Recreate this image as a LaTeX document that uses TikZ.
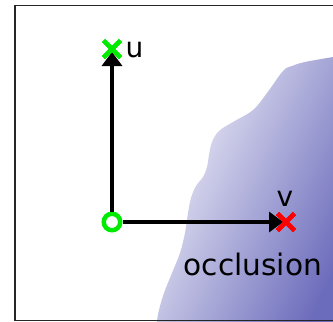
\documentclass[tikz,border=0pt]{standalone}
\usepackage{fontspec}
\setmainfont{DejaVu Sans}
\usetikzlibrary{arrows.meta,shapes.misc}
\definecolor{occlight}{RGB}{242,242,250}
\definecolor{occdark}{RGB}{108,108,188}
\definecolor{mygreen}{RGB}{0,235,0}
\definecolor{myred}{RGB}{255,0,0}
\begin{document}
\begin{tikzpicture}[x=1pt,y=-1pt,
  frame/.style={draw=black!85,line width=1.5pt},
  axis/.style={line width=4pt,-{Triangle[length=14pt,width=20pt]},shorten >=3pt},
  mark green/.style={cross out,draw=mygreen,line width=4.5pt,minimum size=12.5pt,inner sep=0pt},
  mark red/.style={cross out,draw=myred,line width=4.5pt,minimum size=12.5pt,inner sep=0pt},
  origin/.style={circle,draw=mygreen,line width=4.5pt,fill=white,minimum size=16.5pt,inner sep=0pt},
  lbl/.style={inner sep=0pt,font=\fontsize{28}{30}\selectfont},
  occl/.style={inner sep=0pt,font=\fontsize{29.6}{32}\selectfont}]
\useasboundingbox (0,0) rectangle (333,322);
\fill[white] (0,0) rectangle (333,322);
% occlusion region
\shade[left color=occlight,right color=occdark,shading angle=65]
  (345,330) -- (345,55) -- (333,57)
  -- plot[smooth,tension=0.6] coordinates {(333,57) (305,62) (292,66) (283,71) (267,93) (253,110) (233,122) (219,131) (212,142) (209,155) (207,167) (203,177) (196,186) (191,198) (188,213) (185,233) (180,253) (172,273) (164,293) (159,310) (157,321) (156,330)}
  -- cycle;
% frame
\draw[frame] (15,5.5) rectangle (345,320.5);
% nodes
\node[origin] (o) at (112,222) {};
\node[mark green] (u) at (112,49) {};
\node[mark red] (v) at (286,222) {};
\draw[axis] (o.north) -- (u.center);
\draw[axis] (o.east) -- (v.center);
\node[mark green] at (112,49) {};
\node[mark red] at (286,222) {};
\node[lbl,anchor=base west] (ul) at (125.5,57) {u};
\node[lbl,anchor=base] (vl) at (285,206) {v};
\node[occl,anchor=base west] (oc) at (183.5,275) {occlusion};
\end{tikzpicture}
\end{document}
